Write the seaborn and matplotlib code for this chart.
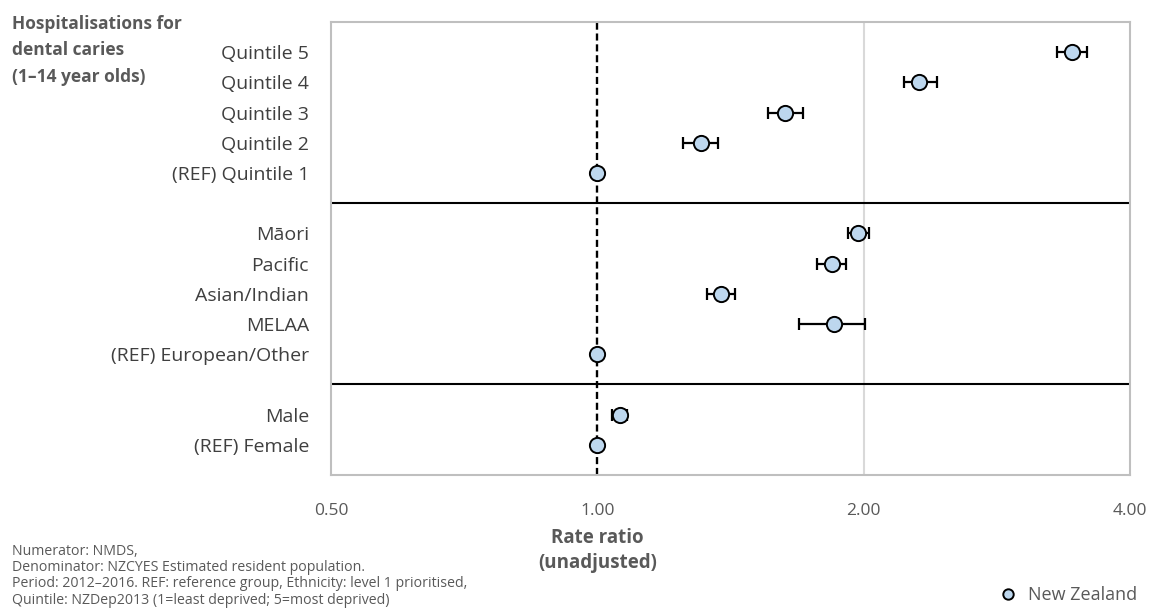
import numpy as np
import pandas as pd
import seaborn as sns
import matplotlib
matplotlib.use("Agg")
from matplotlib import pyplot as plt
from matplotlib.lines import Line2D

# rows from top to bottom, "" marks the gap between groups
groups = ["Quintile 5", "Quintile 4", "Quintile 3", "Quintile 2", "(REF) Quintile 1", "",
          "Māori", "Pacific", "Asian/Indian", "MELAA", "(REF) European/Other", "",
          "Male", "(REF) Female"]
rate_ratio = [3.44, 2.31, 1.63, 1.31, 1.00, None,
              1.97, 1.84, 1.38, 1.85, 1.00, None,
              1.06, 1.00]
ci_low = [3.31, 2.22, 1.56, 1.25, 1.00, None,
          1.92, 1.77, 1.33, 1.69, 1.00, None,
          1.04, 1.00]
ci_high = [3.58, 2.42, 1.71, 1.37, 1.00, None,
           2.03, 1.91, 1.43, 2.01, 1.00, None,
           1.08, 1.00]
x_ticks = [0.5, 1, 2, 4]
x_tick_labels = ["0.50", "1.00", "2.00", "4.00"]

n = len(groups)
df = pd.DataFrame({"group": groups, "rr": rate_ratio, "lo": ci_low, "hi": ci_high})
df["pos"] = n - np.arange(n)
pts = df.dropna().copy()
pts["rr"] = pts["rr"].astype(float)

sns.set_theme(style="white")
plt.rcParams["font.family"] = ["Open Sans", "DejaVu Sans"]

fig = plt.figure(figsize=(11.54, 6.15), dpi=100)
ax = fig.add_axes([0.287, 0.2276, 0.692, 0.7366])

grey = "#BFBFBF"
txt = "#3F3F3F"

ax.set_xscale("log", base=2)
ax.set_xlim(0.5, 4)
ax.set_ylim(0, n + 1)

ax.axvline(2, color="#D9D9D9", lw=1.5, zorder=0)
ax.axvline(1, color="black", lw=1.7, ls=(0, (3, 1.6)), zorder=1)
for sep in df.loc[df["group"] == "", "pos"]:
    ax.axhline(sep, color="black", lw=1.5, zorder=1)

err = [pts["rr"] - pts["lo"], pts["hi"] - pts["rr"]]
ax.errorbar(pts["rr"], pts["pos"], xerr=err, fmt="none", ecolor="black",
            elinewidth=1.6, capsize=4.5, capthick=1.6, zorder=2)
sns.scatterplot(data=pts, x="rr", y="pos", ax=ax, s=120, color="#BDD7EE",
                edgecolor="black", linewidth=1.4, zorder=3, legend=False)

ax.set_xticks(x_ticks)
ax.set_xticklabels(x_tick_labels)
ax.xaxis.set_minor_locator(matplotlib.ticker.NullLocator())
ax.set_yticks(range(0, n + 1))
ax.set_yticklabels([""] + groups[::-1])
ax.tick_params(axis="x", length=0, pad=20, labelsize=12.5, labelcolor="#595959")
ax.tick_params(axis="y", direction="inout", length=12, width=1.5, color=grey,
               pad=10, labelsize=14, labelcolor=txt)
ax.set_xlabel("")
ax.set_ylabel("")
for s in ax.spines.values():
    s.set_color(grey)
    s.set_linewidth(1.5)

ax.text(1, -2.5, "Rate ratio\n(unadjusted)", ha="center", va="center",
        fontsize=13.5, fontweight="bold", color="#595959", linespacing=1.35)

fig.text(0.010, 0.975, "Hospitalisations for\ndental caries\n(1–14 year olds)",
         ha="left", va="top", fontsize=12.5, fontweight="bold", color="#595959",
         linespacing=1.58)

fig.text(0.010, 0.012,
         "Numerator: NMDS,\nDenominator: NZCYES Estimated resident population.\n"
         "Period: 2012–2016. REF: reference group, Ethnicity: level 1 prioritised,\n"
         "Quintile: NZDep2013 (1=least deprived; 5=most deprived)",
         ha="left", va="bottom", fontsize=10.2, color="#595959", linespacing=1.12)

handle = Line2D([], [], marker="o", ls="none", markersize=7.5,
                markerfacecolor="#BDD7EE", markeredgecolor="black", markeredgewidth=1.4)
fig.legend([handle], ["New Zealand"], loc="lower right", bbox_to_anchor=(0.995, 0.0),
           frameon=False, fontsize=13, labelcolor="#595959", handletextpad=0.15,
           borderaxespad=0.2)

fig.savefig("out.png", dpi=100)
